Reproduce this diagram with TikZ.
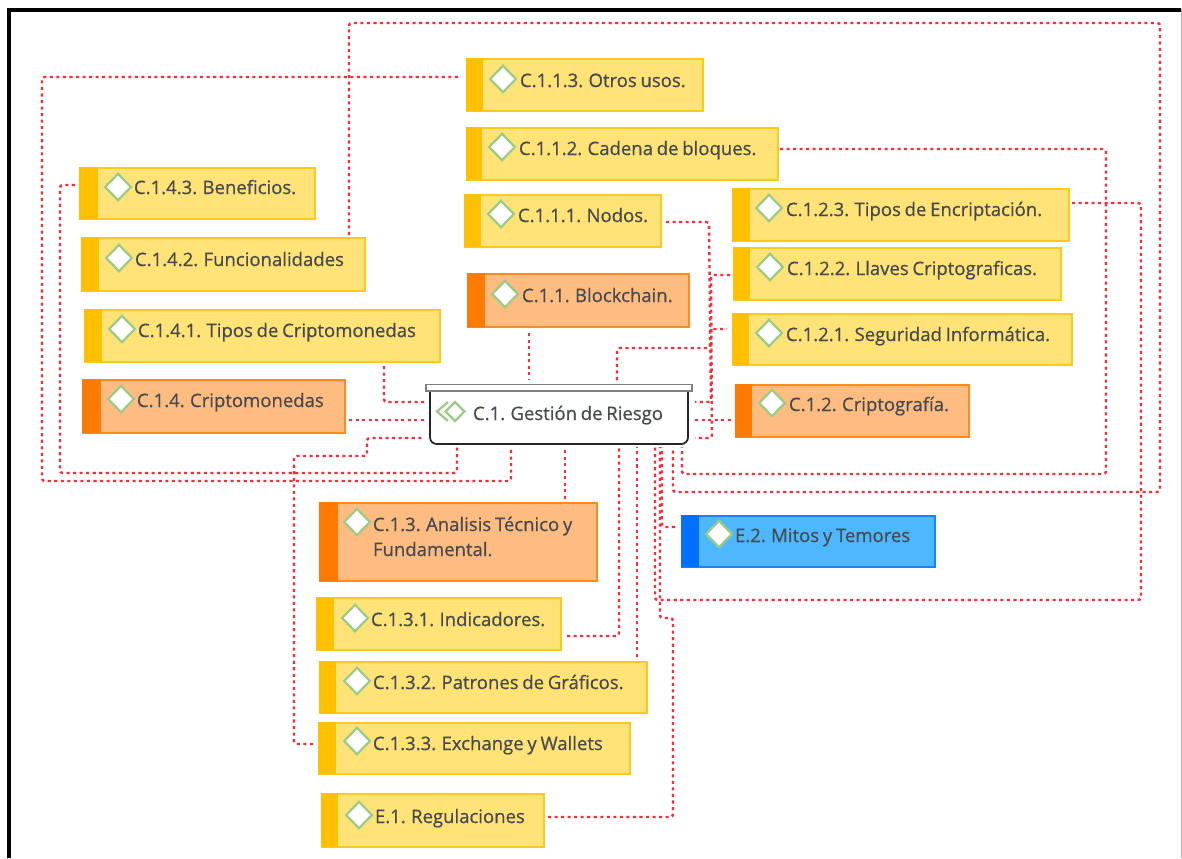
\documentclass[tikz,border=0pt]{standalone}
\usepackage{fontspec}
\setmainfont[FakeBold=0.7,WordSpace=0.78]{Open Sans}
\definecolor{ybody}{HTML}{FFE377}
\definecolor{yedge}{HTML}{FFC81E}
\definecolor{ystripe}{HTML}{FFC000}
\definecolor{obody}{HTML}{FFBC80}
\definecolor{oedge}{HTML}{FF8A1E}
\definecolor{ostripe}{HTML}{FF7A00}
\definecolor{bbody}{HTML}{4DB8FF}
\definecolor{bedge}{HTML}{1E80FF}
\definecolor{bstripe}{HTML}{0070FF}
\definecolor{dgreen}{HTML}{9CCB86}
\definecolor{txt}{HTML}{474B50}
\definecolor{linkred}{HTML}{FF2A36}
\usetikzlibrary{shapes.geometric}
\tikzset{
 x=0.75pt,y=-0.75pt,
 link/.style={draw=linkred,line width=1.8pt,dash pattern=on 2.3pt off 2.6pt,rounded corners=2pt},
 lbl/.style={anchor=base west,inner sep=0pt,outer sep=0pt,text=txt,font=\fontsize{13.9pt}{17.5pt}\selectfont},
 dia/.style={draw=dgreen,fill=white,line width=1.7pt,shape=diamond,minimum width=20pt,minimum height=20.5pt,inner sep=0pt},
}
% #1 name, #2 x0, #3 y0, #4 x1, #5 y1, #6 stripe x, #7 body, #8 edge, #9 stripe colour
\newcommand{\tbox}[9]{%
 \node[inner sep=0pt,outer sep=0pt,minimum width=(#4-#2-0.6)*0.75pt,minimum height=(#5-#3-0.6)*0.75pt,fill=#7,draw=#8,line width=1.5pt] (#1) at ({(#2+#4)/2+0.3},{(#3+#5)/2+0.3}) {};
 \fill[#9] (#2,#3) rectangle (#6,#5);
}
\newcommand{\tlab}[5]{% diamond x, diamond y, text x, baseline y, text
 \node[dia] at (#1,#2) {};
 \node[lbl] at (#3,#4) {#5};
}
\begin{document}
\begin{tikzpicture}
\useasboundingbox (0,0) rectangle (1182,858);
\fill[white] (0,0) rectangle (1182,858);
\draw[black!30,line width=0.7pt] (1181,9) -- (1181,858);
\draw[black,line width=3pt] (8.5,858) -- (8.5,9.5) -- (1181,9.5);

\tbox{n113}{466}{58}{703}{111}{483}{ybody}{yedge}{ystripe}
\tlab{503}{79}{520}{87}{C.1.1.3. Otros usos.}
\tbox{n112}{466}{127}{778}{180}{482}{ybody}{yedge}{ystripe}
\tlab{502}{147}{519}{155}{C.1.1.2. Cadena de bloques.}
\tbox{n111}{464}{194}{661}{247}{481}{ybody}{yedge}{ystripe}
\tlab{501}{214}{518}{222}{C.1.1.1. Nodos.}
\tbox{n11}{467}{273}{689}{327}{485}{obody}{oedge}{ostripe}
\tlab{505}{294}{522}{302}{C.1.1. Blockchain.}
\tbox{n123}{732}{188}{1069}{241}{750}{ybody}{yedge}{ystripe}
\tlab{769}{208}{786}{216}{C.1.2.3. Tipos de Encriptación.}
\tbox{n122}{733}{247}{1061}{300}{750}{ybody}{yedge}{ystripe}
\tlab{770}{267}{787}{275}{C.1.2.2. Llaves Criptograficas.}
\tbox{n121}{732}{313}{1072}{365}{749}{ybody}{yedge}{ystripe}
\tlab{769}{333}{786}{341}{C.1.2.1. Seguridad Informática.}
\tbox{n12}{735}{384}{969}{437}{752}{obody}{oedge}{ostripe}
\tlab{772}{403}{789}{411}{C.1.2. Criptografía.}
\tbox{n143}{79}{167}{315}{219}{98}{ybody}{yedge}{ystripe}
\tlab{118}{187}{134}{194}{C.1.4.3. Beneficios.}
\tbox{n142}{81}{237}{365}{291}{99}{ybody}{yedge}{ystripe}
\tlab{119}{258}{135}{266}{C.1.4.2. Funcionalidades}
\tbox{n141}{84}{309}{440}{362}{102}{ybody}{yedge}{ystripe}
\tlab{122}{329}{138}{337}{C.1.4.1. Tipos de Criptomonedas}
\tbox{n14}{82}{379}{345}{433}{101}{obody}{oedge}{ostripe}
\tlab{121}{399}{137}{407}{C.1.4. Criptomonedas}
\tbox{n13}{319}{502}{597}{581}{338}{obody}{oedge}{ostripe}
\tlab{357}{522}{373}{531}{C.1.3. Analisis Técnico y}
\node[lbl] (n13b) at (373,556) {Fundamental.};
\tbox{n131}{316}{597}{561}{650}{334}{ybody}{yedge}{ystripe}
\tlab{355}{618}{371}{626}{C.1.3.1. Indicadores.}
\tbox{n132}{319}{661}{647}{713}{336}{ybody}{yedge}{ystripe}
\tlab{357}{681}{373}{689}{C.1.3.2. Patrones de Gráficos.}
\tbox{n133}{318}{722}{630}{774}{336}{ybody}{yedge}{ystripe}
\tlab{357}{741}{373}{750}{C.1.3.3. Exchange y Wallets}
\tbox{e1}{321}{793}{544}{847}{338}{ybody}{yedge}{ystripe}
\tlab{359}{815}{375}{823}{E.1. Regulaciones}
\tbox{e2}{681}{515}{935}{567}{699}{bbody}{bedge}{bstripe}
\tlab{719}{534}{735}{542}{E.2. Mitos y Temores}

% central node
\node[inner sep=0pt,minimum width=193.5pt,minimum height=39.75pt] (c) at (559,417.5) {};
\draw[fill=white,draw=black!85,line width=1.3pt,rounded corners=5pt] (430,391) -- (430,444) -- (688,444) -- (688,391);
\fill[white,draw=black!50,line width=1.2pt] (426,384.5) rectangle (692,391);
\draw[dgreen,line width=1.7pt] (448,402) -- (437,411.5) -- (448,421);
\draw[dgreen,line width=1.7pt,fill=white] (455,402) -- (464.5,411.5) -- (455,421) -- (445.5,411.5) -- cycle;
\node[lbl] (clab) at (473,420) {C.1. Gestión de Riesgo};

% connectors
\coordinate (a1) at (424,402); \coordinate (a2) at (424,420); \coordinate (a3) at (424,438);
\coordinate (b1) at (695,402); \coordinate (b2) at (695,420); \coordinate (b3) at (695,438);
\draw[link] (458,77) -- (42,77) -- (42,481) -- (511,481) -- (511,447);
\draw[link] (75,185) -- (60,185) -- (60,473) -- (457,473) -- (457,447);
\draw[link] (349,235) -- (349,23) -- (1160,23) -- (1160,492) -- (673,492) -- (673,447);
\draw[link] (780,149) -- (1106,149) -- (1106,474) -- (682,474) -- (682,447);
\draw[link] (1072,203) -- (1141,203) -- (1141,600) -- (655,600) -- (655,447);
\draw[link] (548,817) -- (673,817) -- (673,618) -- (660,618) -- (660,447);
\draw[link] (675,527) -- (662,527) -- (662,447);
\draw[link] (567,636) -- (619,636) -- (619,447);
\draw[link] (637,657) -- (637,447);
\draw[link] (313,744) -- (294,744) -- (294,456) -- (367,456) -- (367,438) -- (a3);
\draw[link] (349,420) -- (a2);
\draw[link] (384,366) -- (384,402) -- (a1);
\draw[link] (529,333) -- (529,380);
\draw[link] (565,499) -- (565,447);
\draw[link] (617,380) -- (617,348) -- (710,348) -- (710,329) -- (727,329);
\draw[link] (666,222) -- (709,222) -- (711,402) -- (b1);
\draw[link] (730,275) -- (711,275) -- (712,438) -- (b3);
\draw[link] (b2) -- (733,420);
\end{tikzpicture}
\end{document}
